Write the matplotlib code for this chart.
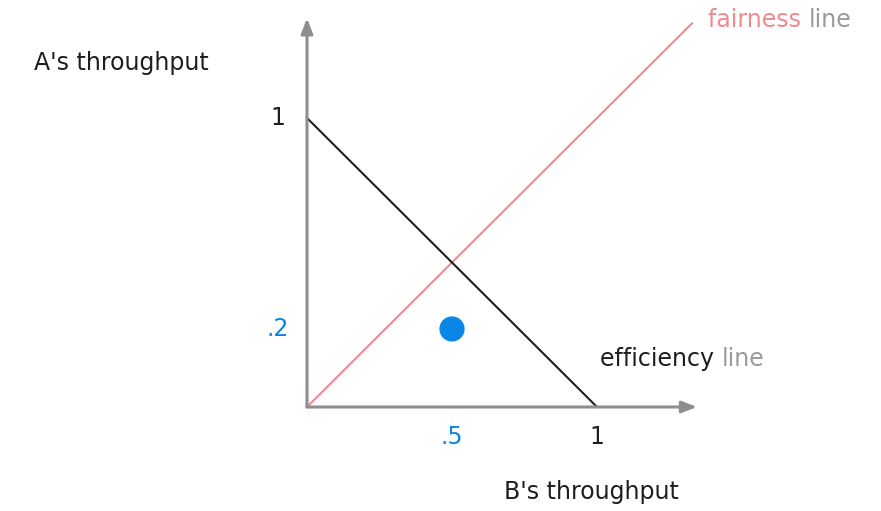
import matplotlib
matplotlib.use("Agg")
import matplotlib.pyplot as plt

# data
efficiency_x = [0, 1]
efficiency_y = [1, 0]
fairness_x = [0, 1.33]
fairness_y = [0, 1.33]
point_x = [0.5]
point_y = [0.27]
xticks = [0.5, 1]
xticklabels = [".5", "1"]
yticks = [0.27, 1]
yticklabels = [".2", "1"]
axis_end = 1.345

fig = plt.figure(figsize=(8.81, 5.11), dpi=100)
ax = fig.add_axes([0, 0, 1, 1])
ax.set_xlim(-307/290, (881-307)/290)
ax.set_ylim(-(511-407)/289, 407/289)
ax.axis("off")

gray = "#8e8e8e"
pink = "#f08a8f"
blue = "#0a86e6"
dark = "#1e1e1e"

# axes with arrows
ax.annotate("", xy=(axis_end, 0), xytext=(0, 0),
            arrowprops=dict(arrowstyle="-|>,head_length=0.9,head_width=0.35",
                            color=gray, lw=2.2, shrinkA=0, shrinkB=0))
ax.annotate("", xy=(0, axis_end), xytext=(0, 0),
            arrowprops=dict(arrowstyle="-|>,head_length=0.9,head_width=0.35",
                            color=gray, lw=2.2, shrinkA=0, shrinkB=0))

ax.plot(fairness_x, fairness_y, color=pink, lw=1.5, solid_capstyle="butt")
ax.plot(efficiency_x, efficiency_y, color=dark, lw=1.5)
ax.scatter(point_x, point_y, s=330, color=blue, zorder=5, edgecolors="none")

fs = 17
# tick labels
for v, lab in zip(xticks, xticklabels):
    c = blue if lab.startswith(".") else dark
    ax.text(v, -0.105, lab, color=c, fontsize=fs, ha="center", va="center")
for v, lab in zip(yticks, yticklabels):
    c = blue if lab.startswith(".") else dark
    ax.text(-0.1, v, lab, color=c, fontsize=fs, ha="center", va="center")

ax.text(-0.641, 1.192, "A's throughput", color=dark, fontsize=fs, ha="center", va="center")
ax.text(0.98, -0.295, "B's throughput", color=dark, fontsize=fs, ha="center", va="center")

t = ax.text(1.01, 0.165, "efficiency ", color=dark, fontsize=fs, ha="left", va="center")
ax.annotate("line", xycoords=t, xy=(1, 0.5), va="center", ha="left",
            color="#9a9a9a", fontsize=fs)
t2 = ax.text(1.383, 1.338, "fairness ", color=pink, fontsize=fs, ha="left", va="center")
ax.annotate("line", xycoords=t2, xy=(1, 0.5), va="center", ha="left",
            color="#9a9a9a", fontsize=fs)

fig.savefig("out.png", dpi=100)
